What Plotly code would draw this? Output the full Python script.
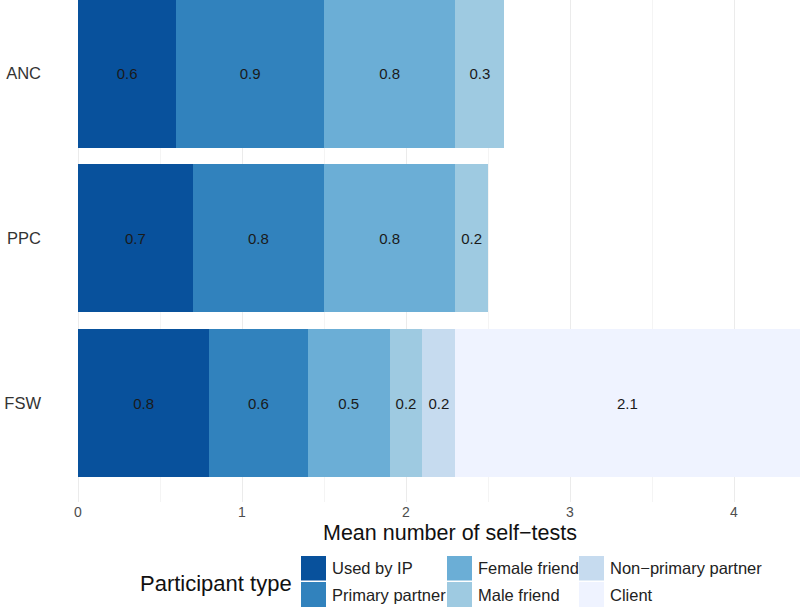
import plotly.graph_objects as go

# ---- data ----
categories = ["FSW", "PPC", "ANC"]
participant_types = ["Used by IP", "Primary partner", "Female friend",
                     "Male friend", "Non\u2212primary partner", "Client"]
colors = ["#08519c", "#3182bd", "#6baed6", "#9ecae1", "#c6dbef", "#eff3ff"]
used_by_ip = [0.8, 0.7, 0.6]
primary_partner = [0.6, 0.8, 0.9]
female_friend = [0.5, 0.8, 0.8]
male_friend = [0.2, 0.2, 0.3]
non_primary_partner = [0.2, None, None]
client = [2.1, None, None]
x_ticks = [0, 1, 2, 3, 4]
x_title = "Mean number of self\u2212tests"
legend_title = "Participant type"

series = [used_by_ip, primary_partner, female_friend, male_friend,
          non_primary_partner, client]

FONT = "Liberation Sans, Arial, sans-serif"

fig = go.Figure()
for name, vals, col in zip(participant_types, series, colors):
    fig.add_trace(go.Bar(
        name=name, y=categories, x=vals, orientation="h",
        marker=dict(color=col, line=dict(width=0)),
        width=0.9,
        text=[f"{v:.1f}" if v else "" for v in vals],
        textposition="inside", insidetextanchor="middle", textangle=0,
        insidetextfont=dict(size=15, color="#1a1a1a", family=FONT),
        showlegend=False, hoverinfo="x+y+name",
    ))

# plot area geometry (pixels)
L, R, T, B = 42, 0, 0, 106
W, H = 800, 608
PW, PH = W - L - R, H - T - B


def px(xp):
    return (xp - L) / PW


def py(yp):
    return (H - B - yp) / PH


shapes = []
annotations = []
# manual legend (2 rows, column-major)
col_x = [301, 447, 579]
row_y = [(556, 580.5), (582, 607)]
for i, (name, col) in enumerate(zip(participant_types, colors)):
    c, r = divmod(i, 2)
    x0 = col_x[c]
    y0, y1 = row_y[r]
    shapes.append(dict(type="rect", xref="paper", yref="paper",
                       x0=px(x0), x1=px(x0 + 25), y0=py(y1), y1=py(y0),
                       fillcolor=col, line=dict(width=0), layer="above"))
    annotations.append(dict(text=name, xref="paper", yref="paper",
                            x=px(x0 + 29), y=py((y0 + y1) / 2),
                            xanchor="left", yanchor="middle", showarrow=False,
                            font=dict(size=16.5, color="#222222", family=FONT)))
annotations.append(dict(text=legend_title, xref="paper", yref="paper",
                        x=px(294), y=py(583), xanchor="right", yanchor="middle",
                        showarrow=False,
                        font=dict(size=22, color="#111111", family=FONT)))
annotations.append(dict(text=x_title, xref="paper", yref="paper",
                        x=px(450), y=py(533), xanchor="center", yanchor="middle",
                        showarrow=False,
                        font=dict(size=21.5, color="#111111", family=FONT)))

fig.update_layout(
    width=W, height=H, barmode="stack",
    margin=dict(l=L, r=R, t=T, b=B, pad=0),
    paper_bgcolor="white", plot_bgcolor="white",
    font=dict(family=FONT),
    showlegend=False,
    xaxis=dict(range=[(L - 78) / 164, (800 - 78) / 164], tickvals=x_ticks,
               showgrid=True, gridcolor="#ebebeb", gridwidth=1,
               minor=dict(tick0=0.5, dtick=1, showgrid=True,
                          gridcolor="#f4f4f4", gridwidth=0.7),
               zeroline=False, showline=False, ticks="",
               tickfont=dict(size=14, color="#4d4d4d", family=FONT),
               automargin=False),
    yaxis=dict(categoryorder="array", categoryarray=categories,
               range=[-0.6, 2.4455], showgrid=False, zeroline=False,
               showline=False, ticks="",
               tickfont=dict(size=16.5, color="#333333", family=FONT),
               automargin=False),
    shapes=shapes, annotations=annotations,
)

fig.write_html(
    "out.html",
    config={"displayModeBar": False},
    post_script="document.body.style.margin='0';"
                "document.body.style.overflow='hidden';",
)
